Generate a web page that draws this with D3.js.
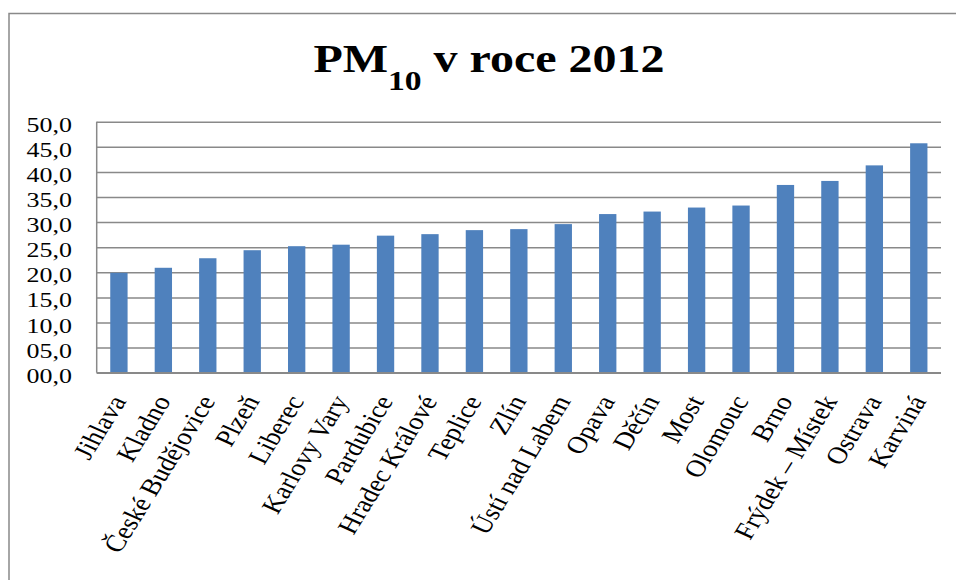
<!DOCTYPE html>
<html>
<head>
<meta charset="utf-8">
<script src="https://cdn.jsdelivr.net/npm/d3@7/dist/d3.min.js"></script>
<style>
  html, body { margin: 0; padding: 0; background: #fff; }
  svg { display: block; }
  text { font-family: "Liberation Serif", "Times New Roman", serif; fill: #000; }
</style>
</head>
<body>
<svg id="chart" width="956" height="580"></svg>
<script>
const categories = ["Jihlava", "Kladno", "České Budějovice", "Plzeň", "Liberec", "Karlovy Vary",
  "Pardubice", "Hradec Králové", "Teplice", "Zlín", "Ústí nad Labem", "Opava", "Děčín",
  "Most", "Olomouc", "Brno", "Frýdek – Místek", "Ostrava", "Karviná"];
const values = [19.9, 20.9, 22.8, 24.4, 25.2, 25.5, 27.3, 27.6, 28.4, 28.6, 29.6, 31.6, 32.1,
  32.9, 33.3, 37.4, 38.2, 41.3, 45.7];
const yTicks = [0, 5, 10, 15, 20, 25, 30, 35, 40, 45, 50];
const titleMain = "PM";
const titleSub = "10";
const titleRest = " v roce 2012";

const W = 956, H = 580;
const plot = { left: 96.7, right: 941, top: 121.7, bottom: 372.7 };
const sx = 1.18; // horizontal stretch of glyphs in the reference
const gridColor = "#898989";
const barColor = "#4F81BD";

const svg = d3.select("#chart");
svg.append("rect").attr("width", W).attr("height", H).attr("fill", "#fff");

// outer chart frame (only left and top edges are visible)
svg.append("path")
  .attr("d", `M9,${H + 2} L9,13.5 L${W + 2},13.5`)
  .attr("fill", "none").attr("stroke", gridColor).attr("stroke-width", 1.5);

const x = d3.scaleBand().domain(categories).range([plot.left, plot.right]).paddingInner(0.61).paddingOuter(0.305);
const y = d3.scaleLinear().domain([0, 50]).range([plot.bottom, plot.top]);

// gridlines
const yAxis = d3.axisLeft(y).tickValues(yTicks).tickSize(-(plot.right - plot.left)).tickFormat("");
const gY = svg.append("g").attr("transform", `translate(${plot.left},0)`).call(yAxis);
gY.select(".domain").remove();
gY.selectAll(".tick line").attr("stroke", gridColor).attr("stroke-width", 1.5);

// left plot edge
svg.append("line").attr("x1", plot.left).attr("x2", plot.left)
  .attr("y1", y(50)).attr("y2", y(0)).attr("stroke", gridColor).attr("stroke-width", 1.5);

// y tick labels
const fmt = v => (v < 10 ? "0" : "") + v.toFixed(1).replace(".", ",");
svg.append("g").selectAll("text").data(yTicks).join("text")
  .attr("transform", d => `translate(72,${y(d) + 10}) scale(${sx},1)`)
  .attr("text-anchor", "end")
  .attr("font-size", 22)
  .text(fmt);

// bars
svg.append("g").selectAll("rect").data(values).join("rect")
  .attr("x", (d, i) => x(categories[i]))
  .attr("width", x.bandwidth())
  .attr("y", d => y(d))
  .attr("height", d => y(0) - y(d))
  .attr("fill", barColor);

// baseline
svg.append("line").attr("x1", plot.left).attr("x2", plot.right)
  .attr("y1", y(0)).attr("y2", y(0)).attr("stroke", gridColor).attr("stroke-width", 1.5);

// x labels
svg.append("g").selectAll("text").data(categories).join("text")
  .attr("transform", d => `translate(${x(d) + x.bandwidth() / 2 + 8},401) scale(${sx},1) rotate(-62)`)
  .attr("text-anchor", "end")
  .attr("font-size", 24)
  .text(d => d);

// title
const t = svg.append("text")
  .attr("transform", `translate(489,71.7) scale(1.2,1)`)
  .attr("text-anchor", "middle")
  .attr("font-weight", "bold")
  .attr("font-size", 40);
t.append("tspan").text(titleMain);
t.append("tspan").attr("font-size", 28).attr("dy", 18).text(titleSub);
t.append("tspan").attr("dy", -18).text(titleRest);
</script>
</body>
</html>
